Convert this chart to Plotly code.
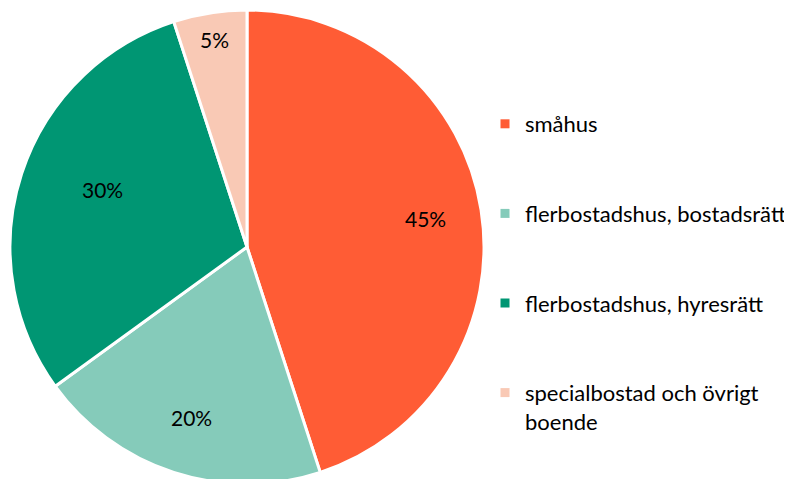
import math
import plotly.graph_objects as go

labels = ["småhus", "flerbostadshus, bostadsrätt", "flerbostadshus, hyresrätt", "specialbostad och övrigt boende"]
legend_names = ["småhus", "flerbostadshus, bostadsrätt", "flerbostadshus, hyresrätt", "specialbostad och övrigt<br>boende"]
values = [45, 20, 30, 5]
colors = ["#FF5C35", "#85CBBA", "#009673", "#F9C9B5"]

# label placement styling (fraction of radius, angle tweak in degrees)
label_radius = [0.764, 0.755, 0.656, 0.886]
label_angle_shift = [0, 0, 3.7, 0]

W, H = 792, 479
# page body has an 8px margin; pie geometry in figure pixels
CX, CY, R = 239, 239, 237

fig = go.Figure()
fig.add_trace(go.Pie(
    labels=labels, values=values, sort=False, direction="clockwise", rotation=0,
    marker=dict(colors=colors, line=dict(color="white", width=3)),
    textinfo="none", showlegend=False, hoverinfo="label+percent",
    domain=dict(x=[(CX - R) / W, (CX + R) / W], y=[1 - (CY + R) / H, 1 - (CY - R) / H]),
))
for name, col in zip(legend_names, colors):
    fig.add_trace(go.Scatter(
        x=[None], y=[None], mode="markers", name=name, legendgroup=name,
        marker=dict(symbol="square", size=9, color=col),
    ))

total = sum(values)
cum = 0
annotations = []
for v, f, da in zip(values, label_radius, label_angle_shift):
    mid = (cum + v / 2) / total * 360 + da
    cum += v
    a = math.radians(mid)
    px = CX + R * f * math.sin(a)
    py = CY - R * f * math.cos(a)
    annotations.append(dict(
        x=px / W, y=1 - py / H, xref="paper", yref="paper", showarrow=False,
        text=f"{v}%", font=dict(family="Lato", size=21, color="black"),
        xanchor="center", yanchor="middle",
    ))

fig.update_layout(
    width=W, height=H, margin=dict(l=0, r=0, t=0, b=0),
    paper_bgcolor="white", plot_bgcolor="white",
    xaxis=dict(visible=False), yaxis=dict(visible=False),
    annotations=annotations,
    legend=dict(x=477 / W, xanchor="left", y=1 - 95 / H, yanchor="top",
                font=dict(family="Lato", size=22, color="black"),
                tracegroupgap=58, valign="top", itemwidth=30),
)
fig.write_html("out.html")
